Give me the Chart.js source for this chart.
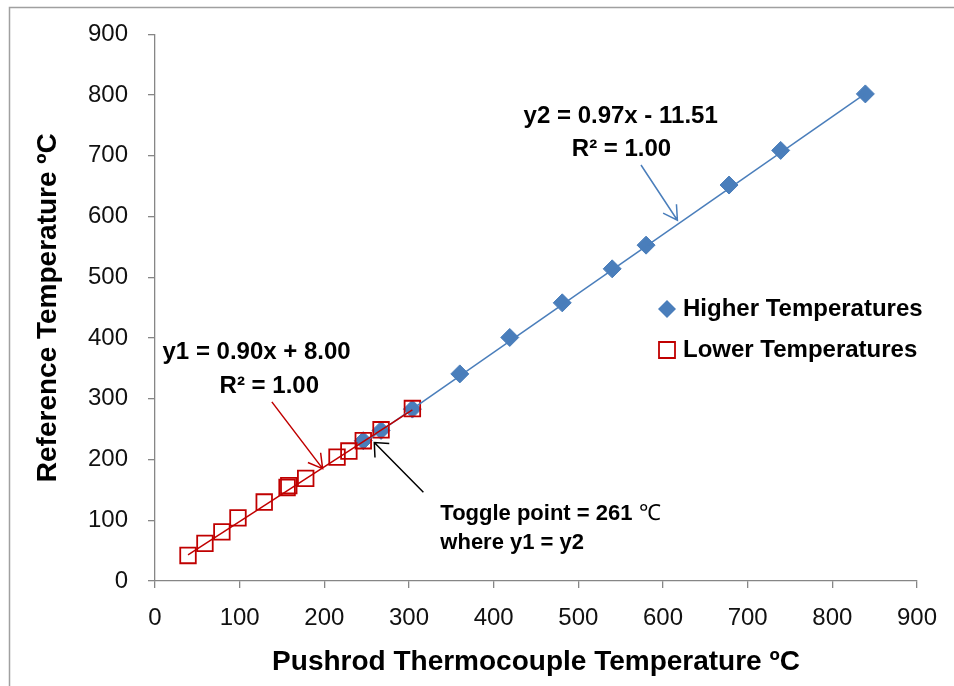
<!DOCTYPE html>
<html>
<head>
<meta charset="utf-8">
<title>Pushrod vs Reference Temperature</title>
<script src="https://cdn.jsdelivr.net/npm/chart.js@4.4.1/dist/chart.umd.min.js"></script>
<style>
    html, body { margin: 0; padding: 0; background: #fff; }
    #wrap { width: 954px; height: 686px; }
</style>
</head>
<body>
<div id="wrap"><canvas id="chart" width="954" height="686"></canvas></div>
<script>
// Data
const higherX = [246, 267, 304, 360, 419, 481, 540, 580, 678, 739, 839];
const higherY = [231, 248, 283, 341, 401, 458, 514, 553, 652, 709, 802];
const lowerX = [39, 59, 79, 98, 129, 156, 158, 178, 215, 229, 246, 267, 304];
const lowerY = [42, 62, 81, 104, 130, 154, 157, 169, 204, 214, 231, 249, 284];

// Trendline coefficients as printed on the chart
const fitHigher = { slope: 0.97, intercept: -11.51 };
const fitLower = { slope: 0.90, intercept: 8.00 };

const axisMin = 0;
const axisMax = 900;
const axisStep = 100;

const FONT = "'Liberation Sans', Arial, sans-serif";
const BLUE = '#4a7ebb';
const RED = '#c00000';
const AXIS_GREY = '#868686';

const toPoints = (xs, ys) => xs.map((x, i) => ({ x, y: ys[i] }));

// Trendline spans the x-range of its own series
function trendLine(xs, fit) {
    const lo = Math.min(...xs);
    const hi = Math.max(...xs);
    return [lo, hi].map(x => ({ x, y: fit.slope * x + fit.intercept }));
}

// Annotation texts and arrows, placed in data units
const notes = [
    { text: 'y2 = 0.97x - 11.51', x: 550, y: 754, align: 'center', size: 24 },
    { text: 'R² = 1.00', x: 551, y: 699, align: 'center', size: 24 },
    { text: 'y1 = 0.90x + 8.00', x: 120, y: 365, align: 'center', size: 24 },
    { text: 'R² = 1.00', x: 135, y: 309, align: 'center', size: 24 },
    { text: 'Toggle point = 261 ', suffix: '℃', x: 337, y: 101, align: 'left', size: 22 },
    { text: 'where y1 = y2', x: 337, y: 52, align: 'left', size: 22 }
];

const arrows = [
    { from: [574, 685], to: [617, 594], color: BLUE, angle: 30, len: 16 },
    { from: [138, 295], to: [198, 185], color: RED, angle: 30, len: 16 },
    { from: [317, 146], to: [259, 228], color: '#000', angle: 42, len: 15 }
];

function drawArrow(ctx, x1, y1, x2, y2, color, angleDeg, len) {
    const a = Math.atan2(y2 - y1, x2 - x1);
    const h = angleDeg * Math.PI / 180;
    ctx.save();
    ctx.strokeStyle = color;
    ctx.lineWidth = 1.5;
    ctx.beginPath();
    ctx.moveTo(x1, y1);
    ctx.lineTo(x2, y2);
    ctx.moveTo(x2 - len * Math.cos(a - h), y2 - len * Math.sin(a - h));
    ctx.lineTo(x2, y2);
    ctx.lineTo(x2 - len * Math.cos(a + h), y2 - len * Math.sin(a + h));
    ctx.stroke();
    ctx.restore();
}

const decorations = {
    id: 'decorations',
    beforeDraw(chart) {
        const ctx = chart.ctx;
        ctx.save();
        ctx.fillStyle = '#fff';
        ctx.fillRect(0, 0, chart.width, chart.height);
        // chart-area frame (only left and top edges fall inside the picture)
        ctx.strokeStyle = '#a0a0a0';
        ctx.lineWidth = 1.5;
        ctx.strokeRect(9.5, 7.5, 1000, 1000);
        ctx.restore();
    },
    afterDraw(chart) {
        const ctx = chart.ctx;
        const xs = chart.scales.x;
        const ys = chart.scales.y;

        arrows.forEach(a => {
            drawArrow(ctx,
                xs.getPixelForValue(a.from[0]), ys.getPixelForValue(a.from[1]),
                xs.getPixelForValue(a.to[0]), ys.getPixelForValue(a.to[1]),
                a.color, a.angle, a.len);
        });

        ctx.save();
        ctx.fillStyle = '#000';
        ctx.textBaseline = 'alphabetic';
        notes.forEach(n => {
            const px = xs.getPixelForValue(n.x);
            const py = ys.getPixelForValue(n.y);
            ctx.font = `bold ${n.size}px ${FONT}`;
            ctx.textAlign = n.align;
            ctx.fillText(n.text, px, py);
            if (n.suffix) {
                const w = ctx.measureText(n.text).width;
                ctx.font = `${n.size}px ${FONT}`;
                ctx.textAlign = 'left';
                ctx.fillText(n.suffix, px + w, py);
            }
        });

        // legend
        const legendItems = chart.data.datasets.filter(d => d.legend)
            .sort((a, b) => a.legend - b.legend);
        legendItems.forEach((d, i) => {
            const my = 309 + i * 41;
            const mx = 667;
            ctx.beginPath();
            if (d.pointStyle === 'rectRot') {
                const r = 9;
                ctx.moveTo(mx - r, my);
                ctx.lineTo(mx, my - r);
                ctx.lineTo(mx + r, my);
                ctx.lineTo(mx, my + r);
                ctx.closePath();
                ctx.fillStyle = d.backgroundColor;
                ctx.fill();
            } else {
                ctx.rect(mx - 8, my - 8, 16, 16);
                ctx.strokeStyle = d.borderColor;
                ctx.lineWidth = 1.8;
                ctx.stroke();
            }
            ctx.fillStyle = '#000';
            ctx.font = `bold 24px ${FONT}`;
            ctx.textAlign = 'left';
            ctx.fillText(d.label, 683, my + 7);
        });
        ctx.restore();
    }
};

new Chart(document.getElementById('chart'), {
    type: 'scatter',
    data: {
        datasets: [
            {
                label: 'Higher Temperatures',
                legend: 1,
                data: toPoints(higherX, higherY),
                pointStyle: 'rectRot',
                pointRadius: 9,
                backgroundColor: BLUE,
                borderColor: BLUE,
                borderWidth: 1,
                order: 3
            },
            {
                label: 'Lower Temperatures',
                legend: 2,
                data: toPoints(lowerX, lowerY),
                pointStyle: 'rect',
                pointRadius: 11,
                backgroundColor: 'rgba(0,0,0,0)',
                borderColor: RED,
                borderWidth: 1.8,
                order: 2
            },
            {
                label: 'Higher trend',
                data: trendLine(higherX, fitHigher),
                showLine: true,
                borderColor: BLUE,
                borderWidth: 1.5,
                pointRadius: 0,
                order: 1
            },
            {
                label: 'Lower trend',
                data: trendLine(lowerX, fitLower),
                showLine: true,
                borderColor: RED,
                borderWidth: 1.5,
                pointRadius: 0,
                order: 0
            }
        ]
    },
    options: {
        responsive: false,
        animation: false,
        events: [],
        layout: { padding: { left: 0, top: 31, right: 37, bottom: 0 } },
        plugins: {
            legend: { display: false },
            tooltip: { enabled: false }
        },
        scales: {
            x: {
                type: 'linear',
                min: axisMin,
                max: axisMax,
                ticks: {
                    stepSize: axisStep,
                    color: '#111',
                    font: { family: FONT, size: 24 },
                    padding: 16,
                    maxRotation: 0
                },
                grid: { drawOnChartArea: false, drawTicks: true, tickLength: 7, color: AXIS_GREY, lineWidth: 1.3 },
                border: { color: AXIS_GREY, width: 1.3 },
                title: {
                    display: true,
                    text: 'Pushrod Thermocouple Temperature ºC',
                    color: '#000',
                    font: { family: FONT, size: 28, weight: 'bold' },
                    padding: { top: 0, bottom: 7 }
                },
                afterFit: s => { s.height = 105; }
            },
            y: {
                type: 'linear',
                min: axisMin,
                max: axisMax,
                ticks: {
                    stepSize: axisStep,
                    color: '#111',
                    font: { family: FONT, size: 24 },
                    padding: 20
                },
                grid: { drawOnChartArea: false, drawTicks: true, tickLength: 7, color: AXIS_GREY, lineWidth: 1.3 },
                border: { color: AXIS_GREY, width: 1.3 },
                title: {
                    display: true,
                    text: 'Reference Temperature ºC',
                    color: '#000',
                    font: { family: FONT, size: 28, weight: 'bold' },
                    padding: { top: 31, bottom: 0 }
                },
                afterFit: s => { s.width = 155; }
            }
        }
    },
    plugins: [decorations]
});
</script>
</body>
</html>
